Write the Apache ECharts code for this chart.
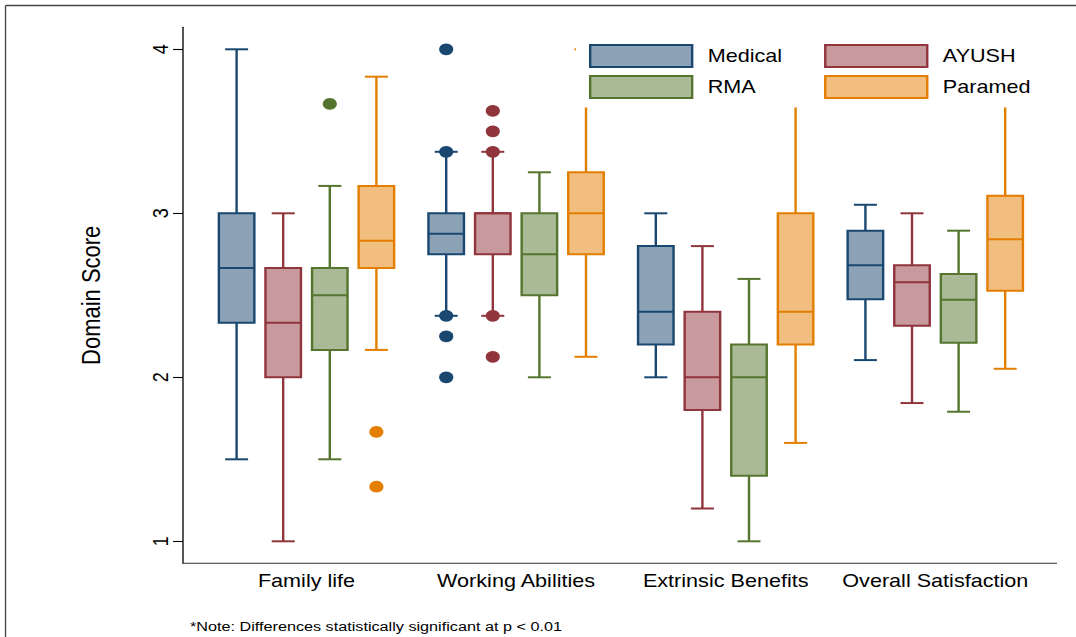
<!DOCTYPE html>
<html><head><meta charset="utf-8">
<script src="https://cdn.jsdelivr.net/npm/echarts@6/dist/echarts.min.js"></script>
<style>
html,body{margin:0;padding:0;background:#fff;overflow:hidden;}
#wrap{width:1076px;height:637px;overflow:hidden;position:relative;}
#c{position:absolute;left:0;top:0;height:637px;transform-origin:0 0;}
</style></head>
<body><div id="wrap"><div id="c"></div></div>
<script>
// ---------- data ----------
const categories = ['Family life', 'Working Abilities', 'Extrinsic Benefits', 'Overall Satisfaction'];
const groups = ['Medical', 'AYUSH', 'RMA', 'Paramed'];
const yTicks = [1, 2, 3, 4];
// box statistics per category: [lower whisker, Q1, median, Q3, upper whisker]
const medicalBox = [[1.5, 2.333, 2.667, 3.0, 4.0], [2.375, 2.75, 2.875, 3.0, 3.375], [2.0, 2.2, 2.4, 2.8, 3.0], [2.105, 2.476, 2.683, 2.894, 3.052]];
const ayushBox   = [[1.0, 2.0, 2.333, 2.667, 3.0], [2.375, 2.75, 3.0, 3.0, 3.375], [1.2, 1.8, 2.0, 2.4, 2.8], [1.843, 2.315, 2.579, 2.683, 3.0]];
const rmaBox     = [[1.5, 2.167, 2.5, 2.667, 3.167], [2.0, 2.5, 2.75, 3.0, 3.25], [1.0, 1.4, 2.0, 2.2, 2.6], [1.79, 2.211, 2.473, 2.63, 2.894]];
const paramedBox = [[2.167, 2.667, 2.833, 3.167, 3.833], [2.125, 2.75, 3.0, 3.25, 4.0], [1.6, 2.2, 2.4, 3.0, 4.0], [2.052, 2.528, 2.842, 3.107, 4.0]];
// outliers: [category index, value]
const medicalOut = [[1, 4.0], [1, 3.375], [1, 2.375], [1, 2.25], [1, 2.0]];
const ayushOut   = [[1, 3.625], [1, 3.5], [1, 3.375], [1, 2.375], [1, 2.125]];
const rmaOut     = [[0, 3.667]];
const paramedOut = [[0, 1.667], [0, 1.333]];
const noteText = '*Note: Differences statistically significant at p < 0.01';

// ---------- styles / layout ----------
const STRETCH = 1.2;                 // reference is rendered horizontally stretched
const W = 1076 / STRETCH, H = 637;
const FONT = "'Liberation Sans', Arial, Helvetica, sans-serif";
const palette = [
  { line: '#1a476f', fill: '#8ca3b7' },
  { line: '#90353b', fill: '#c89a9d' },
  { line: '#55752f', fill: '#aaba97' },
  { line: '#e37e00', fill: '#f1be7f' }
];
const STEP = 0.2223, BOXW = 0.1694, CAPW = 0.1097; // fractions of band width

const el = document.getElementById('c');
el.style.width = W + 'px';
el.style.transform = 'scaleX(' + STRETCH + ')';
const chart = echarts.init(el, null, { renderer: 'svg', width: W, height: H });

const boxes = [medicalBox, ayushBox, rmaBox, paramedBox];
const outs = [medicalOut, ayushOut, rmaOut, paramedOut];

function boxSeries(k) {
  const col = palette[k];
  return {
    type: 'custom', name: groups[k], z: 2,
    data: boxes[k].map((b, i) => [i].concat(b)),
    encode: { x: 0, y: [1, 2, 3, 4, 5] },
    renderItem: function (params, api) {
      const cat = api.value(0);
      const bw = api.size([1, 0])[0];
      const cx = api.coord([cat, 0])[0] + (k - 1.5) * bw * STEP;
      const y = i => api.coord([cat, api.value(i)])[1];
      const yMin = y(1), yQ1 = y(2), yMed = y(3), yQ3 = y(4), yMax = y(5);
      const hw = bw * BOXW / 2, cw = bw * CAPW / 2;
      const ls = { stroke: col.line, lineWidth: 2 };
      return { type: 'group', children: [
        { type: 'line', shape: { x1: cx, y1: yMax, x2: cx, y2: yQ3 }, style: ls },
        { type: 'line', shape: { x1: cx, y1: yQ1, x2: cx, y2: yMin }, style: ls },
        { type: 'line', shape: { x1: cx - cw, y1: yMax, x2: cx + cw, y2: yMax }, style: ls },
        { type: 'line', shape: { x1: cx - cw, y1: yMin, x2: cx + cw, y2: yMin }, style: ls },
        { type: 'rect', shape: { x: cx - hw, y: yQ3, width: 2 * hw, height: yQ1 - yQ3 }, style: { fill: col.fill, stroke: col.line, lineWidth: 2 } },
        { type: 'line', shape: { x1: cx - hw, y1: yMed, x2: cx + hw, y2: yMed }, style: ls }
      ] };
    }
  };
}
function outSeries(k) {
  const col = palette[k];
  return {
    type: 'custom', name: groups[k], z: 2,
    data: outs[k],
    encode: { x: 0, y: 1 },
    renderItem: function (params, api) {
      const cat = api.value(0);
      const bw = api.size([1, 0])[0];
      const p = api.coord([cat, api.value(1)]);
      return { type: 'circle', shape: { cx: p[0] + (k - 1.5) * bw * STEP, cy: p[1], r: 5.9 }, style: { fill: col.line } };
    }
  };
}

const series = [];
for (let k = 0; k < 4; k++) series.push(boxSeries(k));
for (let k = 0; k < 4; k++) series.push(outSeries(k));

// one legend per item so the two columns line up
const legendCols = [490.8, 686.7], legendRows = [44, 75];
const legends = groups.map((n, k) => ({
  left: legendCols[k % 2], top: legendRows[Math.floor(k / 2)], padding: 0,
  itemWidth: 85, itemHeight: 22, selectedMode: false, z: 5,
  textStyle: { fontFamily: FONT, fontSize: 18, color: '#000', padding: [0, 0, 0, 8] },
  data: [{ name: n, icon: 'rect', itemStyle: { color: palette[k].fill, borderColor: palette[k].line, borderWidth: 2 } }]
}));

const gridLeft = 168.08, gridWidth = 698.67;
const yMinV = 1 - 22 / 164, yMaxV = 4 + 22 / 164;

chart.setOption({
  animation: false,
  backgroundColor: '#fff',
  textStyle: { fontFamily: FONT, fontSize: 18 },
  grid: { left: gridLeft, right: W - gridLeft - gridWidth, top: 27.3, bottom: H - 563.3, containLabel: false },
  legend: legends,
  xAxis: {
    type: 'category', data: categories,
    axisLine: { show: false }, axisTick: { show: false },
    axisLabel: { interval: 0, fontFamily: FONT, fontSize: 18, color: '#000', margin: 8 }
  },
  yAxis: {
    type: 'value', min: yMinV, max: yMaxV, offset: gridLeft - 152.5,
    name: 'Domain Score', nameLocation: 'middle', nameRotate: 90, nameGap: 66,
    nameTextStyle: { fontFamily: FONT, fontSize: 22, color: '#000' },
    axisLine: { show: true, lineStyle: { color: '#000', width: 1.1 } },
    axisTick: { show: true, length: 8.3, customValues: yTicks, lineStyle: { color: '#000', width: 1.1 } },
    axisLabel: { show: true, customValues: yTicks, rotate: 90, fontFamily: FONT, fontSize: 18, color: '#000', margin: 10 },
    splitLine: { show: false }
  },
  graphic: [
    { type: 'rect', z: 3, shape: { x: 480, y: 36, width: 391, height: 71.5 }, style: { fill: '#fff' } },
    { type: 'line', z: 1, shape: { x1: 152.5, y1: 563.3, x2: 1057 / STRETCH, y2: 563.3 }, style: { stroke: '#333', lineWidth: 1 } },
    { type: 'line', z: 1, shape: { x1: 4.6, y1: 5.5, x2: W, y2: 5.5 }, style: { stroke: '#444', lineWidth: 1.3 } },
    { type: 'line', z: 1, shape: { x1: 4.6, y1: 5.5, x2: 4.6, y2: H }, style: { stroke: '#444', lineWidth: 1.1 } },
    { type: 'text', z: 1, left: 190 / STRETCH, top: 619, style: { text: noteText, fontFamily: FONT, fontSize: 13.5, fill: '#000' } }
  ],
  series: series
});
</script></body></html>
